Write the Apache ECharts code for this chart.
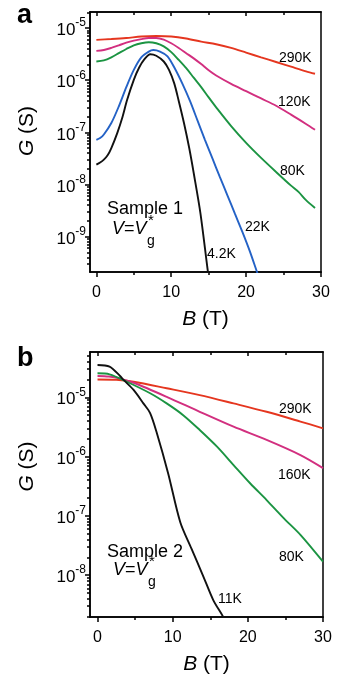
<!DOCTYPE html>
<html>
<head>
<meta charset="utf-8">
<script src="https://cdn.jsdelivr.net/npm/echarts@6/dist/echarts.min.js"></script>
<style>
  html, body { margin: 0; padding: 0; background: #fff; }
  #chart { width: 350px; height: 687px; }
</style>
</head>
<body>
<div id="chart"></div>
<script>
// panel a, sample 1: B (T) and G (S) for each temperature
const fieldA290 = [0, 2, 4, 6, 8, 10, 12, 14, 16, 18, 20, 22, 24, 26, 28, 29.2];
const condA290 = [5.96e-6, 6.17e-6, 6.46e-6, 6.92e-6, 7.08e-6, 6.92e-6, 6.31e-6, 5.5e-6, 4.9e-6, 4.17e-6, 3.39e-6, 2.75e-6, 2.24e-6, 1.82e-6, 1.48e-6, 1.33e-6];

const fieldA120 = [0, 1, 2, 3, 4, 5, 6, 7, 8, 9, 10, 11, 12, 13, 14, 15, 16, 18, 20, 22, 24, 26, 28, 29.2];
const condA120 = [3.66e-6, 3.8e-6, 4.17e-6, 4.68e-6, 5.25e-6, 5.75e-6, 6.17e-6, 6.46e-6, 6.46e-6, 6.03e-6, 5.13e-6, 4.17e-6, 3.31e-6, 2.63e-6, 2.04e-6, 1.55e-6, 1.23e-6, 8.5e-7, 6.17e-7, 4.47e-7, 3.24e-7, 2.19e-7, 1.45e-7, 1.12e-7];

const fieldA80 = [0, 1, 2, 3, 4, 5, 6, 7, 8, 9, 10, 11, 12, 13, 14, 15, 16, 18, 20, 22, 24, 26, 27, 28, 29.2];
const condA80 = [2.29e-6, 2.4e-6, 2.75e-6, 3.31e-6, 3.98e-6, 4.68e-6, 5.13e-6, 5.37e-6, 5.13e-6, 4.47e-6, 3.47e-6, 2.45e-6, 1.7e-6, 1.12e-6, 7.4e-7, 4.68e-7, 3.02e-7, 1.32e-7, 6.3e-8, 3.24e-8, 1.74e-8, 9.5e-9, 7.2e-9, 5.0e-9, 3.55e-9];

const fieldA22 = [0, 0.5, 1, 2, 3, 4, 5, 6, 7, 7.6, 8.5, 9.5, 10.5, 11.5, 12.5, 13.5, 14.5, 15.5, 16.5, 17.5, 18.5, 19.5, 20.5, 21.5, 22];
const condA22 = [7.2e-8, 7.8e-8, 9.1e-8, 1.51e-7, 3.16e-7, 7.4e-7, 1.58e-6, 2.75e-6, 3.55e-6, 3.8e-6, 3.55e-6, 2.88e-6, 1.66e-6, 8.5e-7, 4.0e-7, 1.7e-7, 7.2e-8, 3.16e-8, 1.38e-8, 6.2e-9, 2.75e-9, 1.23e-9, 5.2e-10, 2.0e-10, 1.26e-10];

const fieldA4 = [0, 0.5, 1, 1.5, 2, 2.8, 3.5, 4.1, 5, 5.7, 6.4, 7.2, 8, 9, 9.7, 10.4, 11, 11.7, 12.4, 13, 13.9, 14.9, 15.2];
const condA4 = [2.4e-8, 2.63e-8, 3.0e-8, 3.63e-8, 5.0e-8, 9.8e-8, 2.0e-7, 4.17e-7, 1.02e-6, 1.74e-6, 2.51e-6, 3.16e-6, 2.95e-6, 2.29e-6, 1.58e-6, 8.7e-7, 4.0e-7, 1.51e-7, 5.0e-8, 1.66e-8, 2.8e-9, 2.1e-10, 1.1e-10];

// panel b, sample 2
const fieldB290 = [0, 2.5, 4.8, 9.2, 13.6, 18.1, 22.5, 27, 30];
const condB290 = [2.0e-5, 1.98e-5, 1.83e-5, 1.42e-5, 1.09e-5, 7.9e-6, 5.7e-6, 3.9e-6, 3.0e-6];

const fieldB160 = [0, 1.5, 3, 4.8, 9.2, 13.6, 18.1, 22.5, 27, 30];
const condB160 = [2.29e-5, 2.24e-5, 2.07e-5, 1.76e-5, 1.02e-5, 5.7e-6, 3.19e-6, 1.91e-6, 1.06e-6, 6.4e-7];

const fieldB80 = [0, 1.6, 3.9, 7, 9.2, 11.4, 13.6, 15.9, 18.1, 20.3, 22.5, 24.8, 27, 30];
const condB80 = [2.54e-5, 2.44e-5, 1.83e-5, 1.17e-5, 7.9e-6, 5.0e-6, 2.81e-6, 1.47e-6, 7.2e-7, 3.55e-7, 1.85e-7, 9.1e-8, 4.8e-8, 1.69e-8];

const fieldB11 = [0, 1.6, 3, 3.4, 4.8, 6.1, 7, 7.9, 9.4, 11, 12.5, 14.1, 15.4, 16.7, 17.5];
const condB11 = [3.5e-5, 3.28e-5, 2.29e-5, 2.0e-5, 1.33e-5, 7.9e-6, 5.4e-6, 2.47e-6, 5.2e-7, 7.9e-8, 2.8e-8, 9.4e-9, 3.8e-9, 2.0e-9, 1.26e-9];

// axis ticks
const xMajorTicks = [0, 10, 20, 30];
const xMinorTicks = [5, 15, 25];
const xTopMajor = [0, 10, 20];
const xTopMinor = [5, 15, 25];
const yMajorA = [1e-9, 1e-8, 1e-7, 1e-6, 1e-5];
const yMajorB = [1e-8, 1e-7, 1e-6, 1e-5];

const FONT = '"Liberation Sans", Arial, Helvetica, sans-serif';
const axisLineStyle = { color: '#000', width: 1.5 };

function minorLogTicks(min, max) {
    let out = [];
    for (let d = -11; d <= -4; d++) {
        for (let k = 2; k <= 9; k++) {
            let v = k * Math.pow(10, d);
            if (v > min && v < max) out.push(v);
        }
    }
    return out;
}

function xAxesFor(grid, min) {
    const base = {
        gridIndex: grid, type: 'value', min: min, max: 30,
        splitLine: { show: false },
        axisLine: { show: true, onZero: false, lineStyle: axisLineStyle },
        axisLabel: { show: false }
    };
    return [
        Object.assign({}, base, {
            position: 'bottom',
            axisTick: { show: true, customValues: xMajorTicks, length: 5, lineStyle: axisLineStyle },
            axisLabel: { show: true, customValues: xMajorTicks, fontSize: 16, color: '#000', fontFamily: FONT, margin: 13 },
            name: '{i|B} (T)', nameLocation: 'middle', nameGap: 37,
            nameTextStyle: { fontSize: 21, color: '#000', fontFamily: FONT, rich: { i: { fontSize: 21, fontStyle: 'italic', fontFamily: FONT } } }
        }),
        Object.assign({}, base, { position: 'bottom', axisTick: { show: true, customValues: xMinorTicks, length: 3, lineStyle: axisLineStyle } }),
        Object.assign({}, base, { position: 'top', axisTick: { show: true, inside: true, customValues: xTopMajor, length: 4, lineStyle: axisLineStyle } }),
        Object.assign({}, base, { position: 'top', axisTick: { show: true, inside: true, customValues: xTopMinor, length: 3, lineStyle: axisLineStyle } })
    ];
}

function yAxesFor(grid, min, max, major, namePad) {
    const base = {
        gridIndex: grid, type: 'log', logBase: 10, min: min, max: max,
        splitLine: { show: false },
        axisLine: { show: true, onZero: false, lineStyle: axisLineStyle },
        axisLabel: { show: false }, axisTick: { show: false }
    };
    return [
        Object.assign({}, base, {
            position: 'left',
            axisTick: { show: true, customValues: major, length: 5, lineStyle: axisLineStyle },
            axisLabel: {
                show: true, customValues: major, margin: 4,
                formatter: function (v) { return '{b|10}{s|' + Math.round(Math.log10(v)) + '}'; },
                rich: {
                    b: { fontSize: 17, color: '#000', fontFamily: FONT, verticalAlign: 'bottom' },
                    s: { fontSize: 12, color: '#000', fontFamily: FONT, verticalAlign: 'top', padding: [0, 0, 10, 0] }
                }
            },
            name: '{i|G} (S)', nameLocation: 'middle', nameGap: 52,
            nameTextStyle: {
                fontSize: 21, color: '#000', fontFamily: FONT, padding: [0, 0, 0, namePad],
                rich: { i: { fontSize: 21, fontStyle: 'italic', fontFamily: FONT } }
            }
        }),
        Object.assign({}, base, { position: 'left', axisTick: { show: true, customValues: minorLogTicks(min, max), length: 3, lineStyle: axisLineStyle } }),
        Object.assign({}, base, { position: 'right' })
    ];
}

function curve(name, grid, field, cond, color) {
    return {
        name: name, type: 'line', xAxisIndex: grid * 4, yAxisIndex: grid * 3,
        data: field.map((b, i) => [b, cond[i]]),
        showSymbol: false, smooth: 0.3, clip: true, silent: true,
        lineStyle: { color: color, width: 1.9 }, itemStyle: { color: color }
    };
}

function tag(text, x, y, size, extra) {
    return {
        type: 'text', x: x, y: y,
        style: Object.assign({ text: text, fontSize: size, fontFamily: FONT, fill: '#000', verticalAlign: 'middle' }, extra || {})
    };
}

function gateLabel(x, y) {
    return [
        tag('{i|V}={i|V}', x, y, 18, { rich: { i: { fontStyle: 'italic', fontSize: 18, fontFamily: FONT } } }),
        tag('g', x + 35, y + 12, 14),
        tag('*', x + 36, y - 8, 15)
    ];
}

const RED = '#e5361f', MAGENTA = '#d22f7f', GREEN = '#1b9442', BLUE = '#2462c6', BLACK = '#111';

let chart = echarts.init(document.getElementById('chart'));
chart.setOption({
    animation: false,
    backgroundColor: '#fff',
    grid: [
        { left: 90, top: 12, width: 231, height: 260 },
        { left: 90, top: 352, width: 233, height: 265 }
    ],
    xAxis: xAxesFor(0, -0.85).concat(xAxesFor(1, -1.0)),
    yAxis: yAxesFor(0, 2.09e-10, 2.04e-5, yMajorA, 22).concat(yAxesFor(1, 1.97e-9, 5.81e-5, yMajorB, 36)),
    series: [
        curve('290K', 0, fieldA290, condA290, RED),
        curve('120K', 0, fieldA120, condA120, MAGENTA),
        curve('80K', 0, fieldA80, condA80, GREEN),
        curve('22K', 0, fieldA22, condA22, BLUE),
        curve('4.2K', 0, fieldA4, condA4, BLACK),
        curve('290K', 1, fieldB290, condB290, RED),
        curve('160K', 1, fieldB160, condB160, MAGENTA),
        curve('80K', 1, fieldB80, condB80, GREEN),
        curve('11K', 1, fieldB11, condB11, BLACK)
    ],
    graphic: [
        tag('a', 17, 15.5, 27, { fontWeight: 'bold' }),
        tag('b', 17, 358.5, 27, { fontWeight: 'bold' }),
        tag('290K', 279, 58, 14),
        tag('120K', 278, 102, 14),
        tag('80K', 280, 171, 14),
        tag('22K', 245, 227, 14),
        tag('4.2K', 207, 254, 14),
        tag('Sample 1', 107, 209, 18),
        tag('290K', 279, 409, 14),
        tag('160K', 278, 475, 14),
        tag('80K', 279, 557, 14),
        tag('11K', 218, 599, 14),
        tag('Sample 2', 107, 552, 18)
    ].concat(gateLabel(112, 229), gateLabel(113, 570))
});
</script>
</body>
</html>
